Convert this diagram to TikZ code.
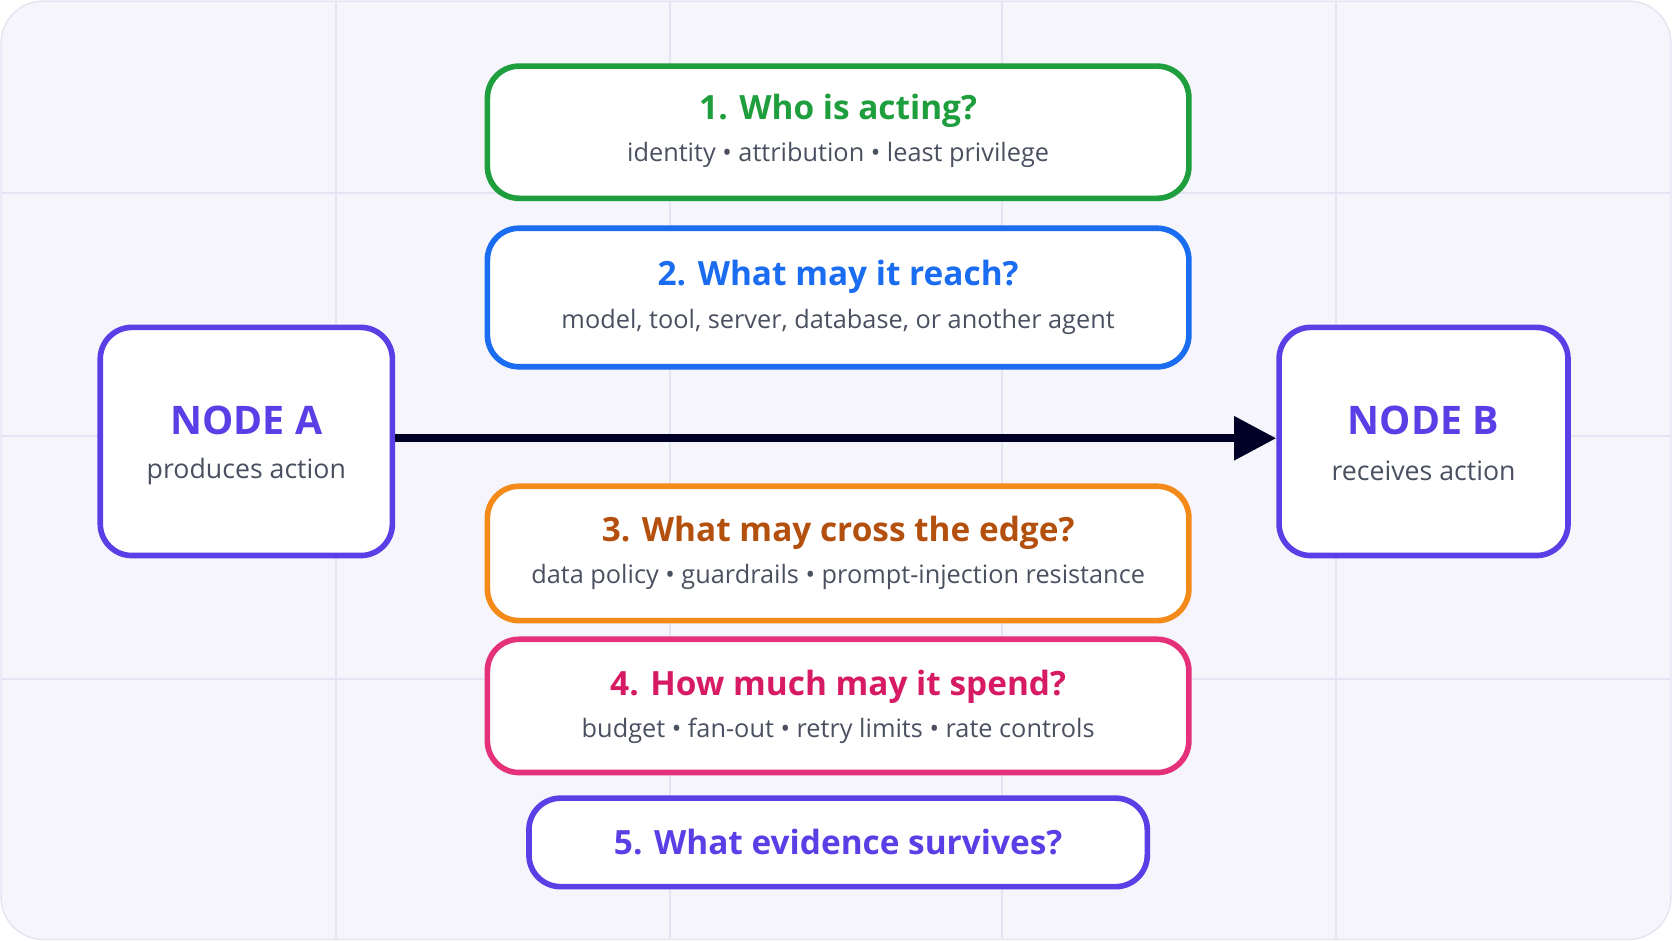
\documentclass[tikz,border=0pt]{standalone}
\usepackage{fontspec}
\setmainfont{Open Sans}
\usetikzlibrary{arrows.meta,positioning}
\definecolor{bgfill}{HTML}{F5F5FB}
\definecolor{gridc}{HTML}{E4E4F2}
\definecolor{cgreen}{HTML}{1E9E3C}
\definecolor{cblue}{HTML}{1A6CF0}
\definecolor{cpurple}{HTML}{5B3FE6}
\definecolor{corange}{HTML}{F38A1A}
\definecolor{ctorange}{HTML}{B4500E}
\definecolor{cpink}{HTML}{E5307A}
\definecolor{ctpink}{HTML}{D61A63}
\definecolor{csub}{HTML}{4A5060}
\tikzset{
  box/.style={rectangle, draw, line width=1.6pt, rounded corners=9pt, fill=white, inner sep=0pt},
  qbox/.style={box, minimum width=7.016cm},
  endbox/.style={box, draw=cpurple, minimum height=2.282cm},
  ttl/.style={font=\bfseries\fontsize{9.5}{12}\selectfont},
  bigttl/.style={text=cpurple, font=\bfseries\fontsize{11.2}{13}\selectfont},
  sub/.style={font=\fontsize{7.2}{9}\selectfont, text=csub},
  endsub/.style={sub, font=\fontsize{7.6}{10}\selectfont},
}
\begin{document}
\begin{tikzpicture}[x=0.010663cm, y=-0.010663cm]
  \useasboundingbox (0,0) rectangle (1568,882);
  \draw [gridc, fill=bgfill, rounded corners=12pt] (1,1) rectangle (1567,881);
  \foreach \gx in {315,628,940,1253}
    \draw [gridc, line width=0.5pt] (\gx,2) -- (\gx,880);
  \foreach \gy in {181,409,637}
    \draw [gridc, line width=0.5pt] (2,\gy) -- (1566,\gy);

  % question boxes
  \node [qbox, draw=cgreen, minimum height=1.322cm] at (786,124) (q1) {};
  \node [ttl, text=cgreen] at (786,104) (q1t) {1. Who is acting?};
  \node [sub] at (786,145) (q1s) {identity • attribution • least privilege};

  \node [qbox, draw=cblue, minimum height=1.386cm] at (786,279) (q2) {};
  \node [ttl, text=cblue] at (786,260) (q2t) {2. What may it reach?};
  \node [sub] at (786,302) (q2s) {model, tool, server, database, or another agent};

  \node [qbox, draw=corange, minimum height=1.344cm] at (786,519) (q3) {};
  \node [ttl, text=ctorange] at (786,500) (q3t) {3. What may cross the edge?};
  \node [sub] at (786,541) (q3s) {data policy • guardrails • prompt-injection resistance};

  \node [qbox, draw=cpink, minimum height=1.333cm] at (786,662) (q4) {};
  \node [ttl, text=ctpink] at (786,644) (q4t) {4. How much may it spend?};
  \node [sub] at (786,685) (q4s) {budget • fan-out • retry limits • rate controls};

  \node [box, draw=cpurple, minimum width=6.185cm, minimum height=0.885cm] at (786,790) (q5) {};
  \node [ttl, text=cpurple] at (786,790) (q5t) {5. What evidence survives?};

  % end nodes
  \node [endbox, minimum width=2.922cm] at (231,414) (a) {};
  \node [bigttl] at (231,394) (at) {NODE A};
  \node [endsub] at (231,442) (as) {produces action};

  \node [endbox, minimum width=2.890cm] at (1335,414) (b) {};
  \node [bigttl] at (1335,394) (bt) {NODE B};
  \node [endsub] at (1335,442) (bs) {receives action};

  \draw [line width=2.4pt, black!85!blue, -{Triangle[length=12pt,width=12pt]}] (a.east |- 0,411) -- (b.west |- 0,411);
\end{tikzpicture}
\end{document}
